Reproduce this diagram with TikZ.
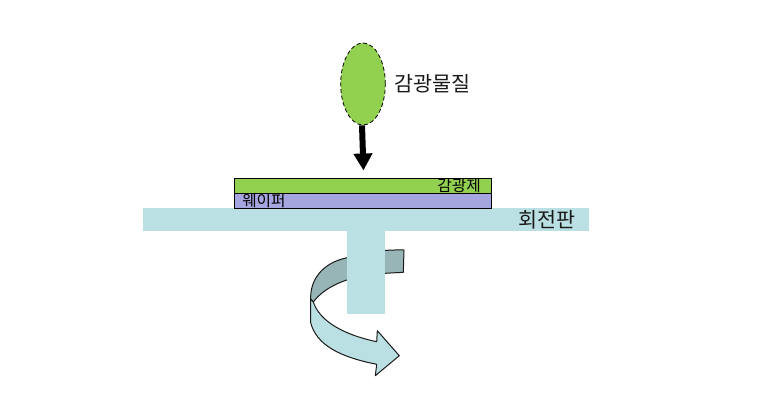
\documentclass[tikz,border=0pt]{standalone}
\usepackage{fontspec}
\newfontfamily\krfont{Noto Sans CJK KR}
\usetikzlibrary{arrows.meta,shapes.geometric}
\definecolor{wfdrop}{HTML}{92D050}
\definecolor{wfviolet}{HTML}{A5A5DF}
\definecolor{wfplate}{HTML}{BBE0E3}
\definecolor{wfshade}{HTML}{97B5B6}
\definecolor{wfink}{HTML}{1A1A1A}
\tikzset{
  wfdropshape/.style={
    ellipse,
    draw=black,
    densely dashed,
    fill=wfdrop,
    line width=0.6pt,
    minimum width=33.5pt,
    minimum height=61.5pt,
    inner sep=0pt
  },
  wflayer/.style={
    draw=black,
    line width=0.7pt,
    minimum width=192.5pt,
    minimum height=11.25pt,
    inner sep=0pt
  },
  wfsolid/.style={
    fill=wfplate,
    inner sep=0pt
  },
  wfdrip/.style={
    -{Triangle[length=12.75pt,width=13.5pt]},
    line width=4.5pt,
    color=black
  },
  wfband/.style={
    draw=wfink,
    line width=0.75pt,
    line join=round
  },
  wflabel/.style={
    font=\krfont\fontsize{15.5}{17}\selectfont,
    text=wfink,
    inner sep=0pt
  },
  wfsmall/.style={
    font=\krfont\fontsize{11.8}{13}\selectfont,
    text=black,
    inner sep=0pt
  }
}
\begin{document}
\begin{tikzpicture}[x=0.75pt,y=-0.75pt]
  \useasboundingbox (0,0) rectangle (780,418);

  % back part of the turning arrow
  \draw[wfband, fill=wfshade] (404,250) -- (403.3,272.3) -- (385,273.3)
    .. controls (352,275) and (326,285) .. (313.3,302)
    -- (310.7,299)
    .. controls (310,280) and (322,263) .. (347,257.7)
    .. controls (360,252) and (385,249.5) .. (404,250) -- cycle;

  \node[wfsolid, minimum width=334.5pt, minimum height=17.25pt] (plate) at (366,219.5) {};
  \node[wfsolid, minimum width=28.5pt, minimum height=62.25pt, anchor=north] (spindle) at (366,231) {};

  % front part of the turning arrow
  \draw[wfband, fill=wfplate] (313.3,302)
    .. controls (320,322) and (345,335) .. (376.7,341.7)
    -- (377.3,330.7) -- (399.3,355.7) -- (375.3,375.7) -- (376.7,364.3)
    .. controls (340,357) and (316,345) .. (310.5,322)
    -- (310.7,299) -- cycle;

  \node[wflayer, fill=wfdrop] (resist) at (362.75,186) {};
  \node[wflayer, fill=wfviolet] (wafer) at (362.75,201) {};
  \node[wfsmall, anchor=east] (resistlabel) at (481,186) {감광제};
  \node[wfsmall, anchor=west] (waferlabel) at (242,200.5) {웨이퍼};
  \node[wflabel, anchor=east] (platelabel) at (576,220) {회전판};

  \node[wfdropshape] (drop) at (363,84) {};
  \node[wflabel, anchor=west] (droplabel) at (394.5,84) {감광물질};
  \coordinate (droptip) at (363.5,170.5);
  \draw[wfdrip] ([xshift=-0.75pt]drop.south) -- (droptip);
\end{tikzpicture}
\end{document}
